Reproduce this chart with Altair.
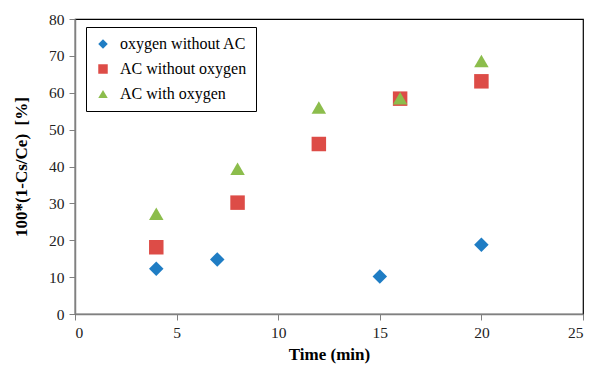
import altair as alt
import pandas as pd

series_names = ["oxygen without AC", "AC without oxygen", "AC with oxygen"]

t_oxy = [4, 7, 15, 20]
v_oxy = [12.3, 14.8, 10.2, 18.8]

t_ac = [4, 8, 12, 16, 20]
v_ac = [18.1, 30.2, 46.1, 58.4, 63.1]

t_acoxy = [4, 8, 12, 16, 20]
v_acoxy = [27.2, 39.4, 56.0, 58.5, 68.6]

rows = []
for name, ts, vs in zip(series_names, [t_oxy, t_ac, t_acoxy], [v_oxy, v_ac, v_acoxy]):
    for t, v in zip(ts, vs):
        rows.append({"series": name, "time": t, "value": v})
df = pd.DataFrame(rows)

colors = ["#1F7DC4", "#DD4C47", "#8CBD4C"]
shapes = ["diamond", "square", "triangle-up"]
FONT = "Liberation Serif, Times New Roman, serif"

chart = alt.Chart(df).mark_point(filled=True, opacity=1, size=210).encode(
    x=alt.X("time:Q", title="Time (min)",
            scale=alt.Scale(domain=[0, 25], nice=False),
            axis=alt.Axis(values=[0, 5, 10, 15, 20, 25], grid=False, labelFont=FONT)),
    y=alt.Y("value:Q", title="100*(1-Cs/Ce)\u00a0\u00a0[%]",
            scale=alt.Scale(domain=[0, 80], nice=False),
            axis=alt.Axis(values=list(range(0, 81, 10)), grid=False, labelFont=FONT)),
    color=alt.Color("series:N", sort=series_names,
                    scale=alt.Scale(domain=series_names, range=colors),
                    legend=alt.Legend(title=None, orient="none", legendX=11, legendY=8,
                                      strokeColor="black", fillColor="white", padding=9,
                                      symbolSize=90, labelFontSize=16, labelFont=FONT,
                                      rowPadding=9, labelColor="black", labelOffset=9,
                                      symbolStrokeWidth=0)),
    shape=alt.Shape("series:N", sort=series_names,
                    scale=alt.Scale(domain=series_names, range=shapes), legend=None),
).properties(
    width=508, height=295,
    autosize=alt.AutoSizeParams(type="none"),
    padding={"left": 67, "top": 11, "right": 10, "bottom": 54},
).configure(
    font=FONT
).configure_view(
    stroke="black", strokeWidth=1.2
).configure_axis(
    domainColor="#808080", domainWidth=1.5, tickColor="#808080", tickSize=6,
    labelFont=FONT, labelFontSize=15.5, labelColor="#222222",
    titleFont=FONT, titleFontSize=17, titleFontWeight="bold", titleColor="black",
    labelPadding=5
).configure_axisX(titlePadding=6).configure_axisY(titlePadding=18)

chart.save("out.html", embed_options={"renderer": "svg", "actions": False})
